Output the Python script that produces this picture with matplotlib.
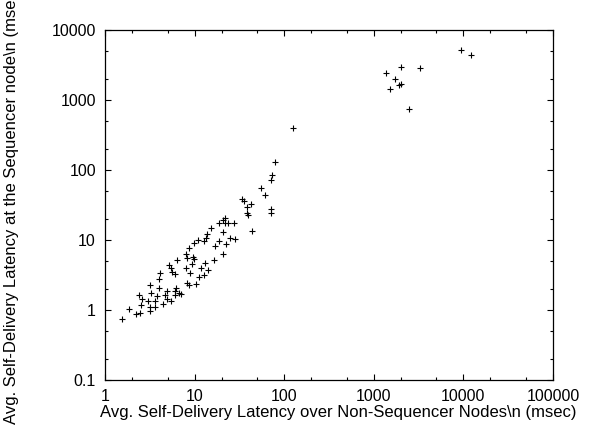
import matplotlib.pyplot as plt
from matplotlib.ticker import LogLocator, FixedLocator, NullFormatter

plt.rcParams['font.family'] = ['Liberation Sans', 'DejaVu Sans']

# avg self-delivery latency over non-sequencer nodes (msec)
non_seq = [1.56, 1.84, 2.22, 2.47, 2.37, 2.51, 2.62, 3.04, 3.14, 3.22,
           3.22, 3.30, 3.64, 3.58, 3.80, 3.96, 3.96, 4.06, 4.40, 4.67,
           4.86, 4.98, 5.15, 5.45, 5.50, 5.59, 5.97, 5.97, 6.07, 6.22,
           6.33, 6.65, 7.04, 8.03, 8.17, 7.97, 8.30, 8.65, 8.72, 8.87,
           9.40, 9.55, 9.79, 9.79, 10.4, 10.8, 11.1, 11.7, 12.7, 13.1,
           12.8, 13.3, 13.6, 14.2, 15.4, 16.3, 17.1, 18.5, 18.9, 20.5,
           20.7, 20.9, 21.6, 21.9, 22.7, 23.8, 24.6, 27.4, 28.1, 33.7,
           36.0, 38.7, 38.7, 39.7, 42.1, 43.8, 55, 61.5, 72, 71,
           71, 74, 78, 124,
           1368, 1497, 1725, 1906, 2002, 2013, 2483, 3280, 9350, 12100]

# avg self-delivery latency at the sequencer node (msec)
seq = [0.75, 1.03, 0.89, 0.92, 1.62, 1.19, 1.44, 1.33, 0.96, 1.12,
       2.28, 1.77, 1.10, 1.33, 1.58, 2.06, 2.77, 3.41, 1.20, 1.64,
       1.42, 1.89, 4.39, 4.03, 1.33, 3.53, 3.27, 1.64, 1.87, 2.08,
       5.18, 1.77, 1.69, 6.31, 5.59, 3.94, 2.43, 2.28, 7.69, 3.34,
       4.54, 5.78, 8.96, 5.35, 2.38, 10.0, 2.99, 3.94, 3.16, 4.74,
       9.57, 10.6, 12.0, 3.73, 15.0, 5.18, 8.30, 17.7, 9.57, 19.3,
       6.24, 12.9, 17.5, 20.8, 8.77, 17.7, 10.8, 17.7, 10.2, 38.1,
       35.7, 29.9, 24.0, 22.5, 32.3, 13.4, 55, 44, 71, 28,
       24, 85, 130, 395,
       2450, 1436, 1977, 1638, 1693, 2990, 743, 2890, 5130, 4350]

x_ticks = [1, 10, 100, 1000, 10000, 100000]
x_labels = ["1", "10", "100", "1000", "10000", "100000"]
y_ticks = [0.1, 1, 10, 100, 1000, 10000]
y_labels = ["0.1", "1", "10", "100", "1000", "10000"]

fig = plt.figure(figsize=(6.04, 4.30), dpi=100)
ax = fig.add_axes([0.1738, 0.1163, 0.7418, 0.8139])

ax.plot(non_seq, seq, linestyle="none", marker="+", color="black",
        markersize=5, markeredgewidth=0.8)

ax.set_xscale("log")
ax.set_yscale("log")
ax.set_xlim(1, 100000)
ax.set_ylim(0.1, 10000)

ax.xaxis.set_major_locator(FixedLocator(x_ticks))
ax.set_xticklabels(x_labels)
ax.yaxis.set_major_locator(FixedLocator(y_ticks))
ax.set_yticklabels(y_labels)
ax.xaxis.set_minor_locator(LogLocator(base=10, subs=(2, 5)))
ax.yaxis.set_minor_locator(LogLocator(base=10, subs=(2, 5)))
ax.xaxis.set_minor_formatter(NullFormatter())
ax.yaxis.set_minor_formatter(NullFormatter())

ax.tick_params(which="both", direction="in", top=True, right=True,
               labelsize=11.5, width=0.8)
ax.tick_params(which="major", length=4.5, pad=6.5)
ax.tick_params(which="minor", length=2.5)
for s in ax.spines.values():
    s.set_linewidth(0.9)

ax.set_xlabel("Avg. Self-Delivery Latency over Non-Sequencer Nodes\\n (msec)",
              fontsize=12)
ax.set_ylabel("Avg. Self-Delivery Latency at the Sequencer node\\n (msec)",
              fontsize=12)
ax.xaxis.set_label_coords(0.52, -0.072)
ax.yaxis.set_label_coords(-0.193, 0.5)

fig.savefig("out.png", dpi=100)
